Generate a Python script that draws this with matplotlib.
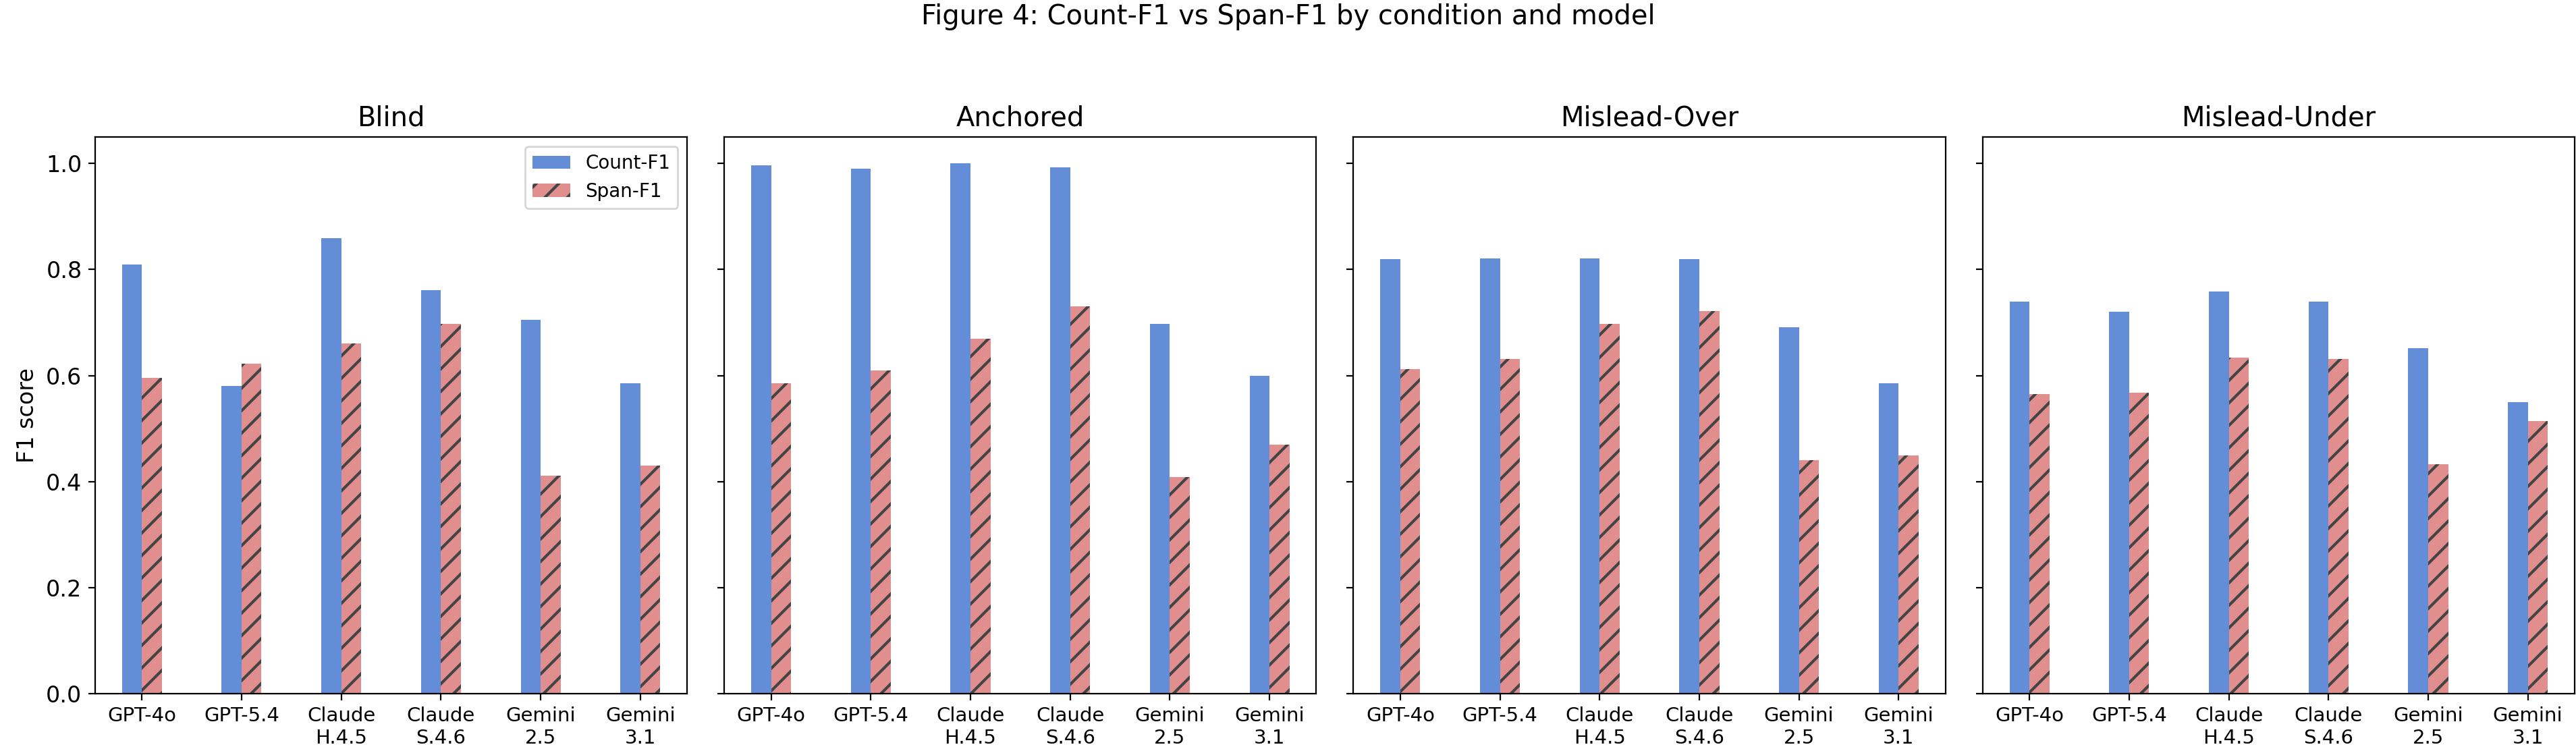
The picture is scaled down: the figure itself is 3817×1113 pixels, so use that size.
import matplotlib
matplotlib.use("Agg")
import matplotlib.pyplot as plt
import numpy as np

plt.rcParams['font.size'] = 12
plt.rcParams['hatch.linewidth'] = 1.5

conditions = ["Blind", "Anchored", "Mislead-Over", "Mislead-Under"]
models = ["GPT-4o", "GPT-5.4", "Claude\nH.4.5", "Claude\nS.4.6", "Gemini\n2.5", "Gemini\n3.1"]

# Count-F1 per condition (same model order as above)
count_blind = [0.809, 0.580, 0.859, 0.761, 0.705, 0.586]
count_anchored = [0.996, 0.990, 1.000, 0.993, 0.697, 0.600]
count_over = [0.820, 0.821, 0.821, 0.820, 0.691, 0.585]
count_under = [0.739, 0.720, 0.758, 0.739, 0.652, 0.550]

# Span-F1 per condition
span_blind = [0.596, 0.622, 0.661, 0.698, 0.411, 0.430]
span_anchored = [0.586, 0.610, 0.670, 0.730, 0.408, 0.469]
span_over = [0.612, 0.631, 0.698, 0.722, 0.440, 0.449]
span_under = [0.565, 0.567, 0.634, 0.631, 0.433, 0.514]

count_f1 = [count_blind, count_anchored, count_over, count_under]
span_f1 = [span_blind, span_anchored, span_over, span_under]

COUNT_COLOR = '#638DD6'
SPAN_COLOR = '#E08E8E'
HATCH_COLOR = '#444444'
width = 0.2

fig, axes = plt.subplots(1, 4, figsize=(3817 / 200, 1113 / 200), sharey=True)
fig.subplots_adjust(left=0.0369, right=0.9995, top=0.8176, bottom=0.0764, wspace=0.0627)

x = np.arange(len(models))
for i, ax in enumerate(axes):
    ax.bar(x - width / 2, count_f1[i], width, color=COUNT_COLOR, label='Count-F1')
    ax.bar(x + width / 2, span_f1[i], width, color=SPAN_COLOR, hatch='//',
           edgecolor=HATCH_COLOR, linewidth=0, label='Span-F1')
    ax.set_title(conditions[i])
    ax.set_xticks(x)
    ax.set_xticklabels(models, fontsize=10.5)
    if i == 0:
        ax.set_ylabel('F1 score')
        ax.legend(loc='upper right', fontsize=10)

fig.suptitle('Figure 4: Count-F1 vs Span-F1 by condition and model', y=0.9955, va='top')

fig.savefig('out.png', dpi=200)
